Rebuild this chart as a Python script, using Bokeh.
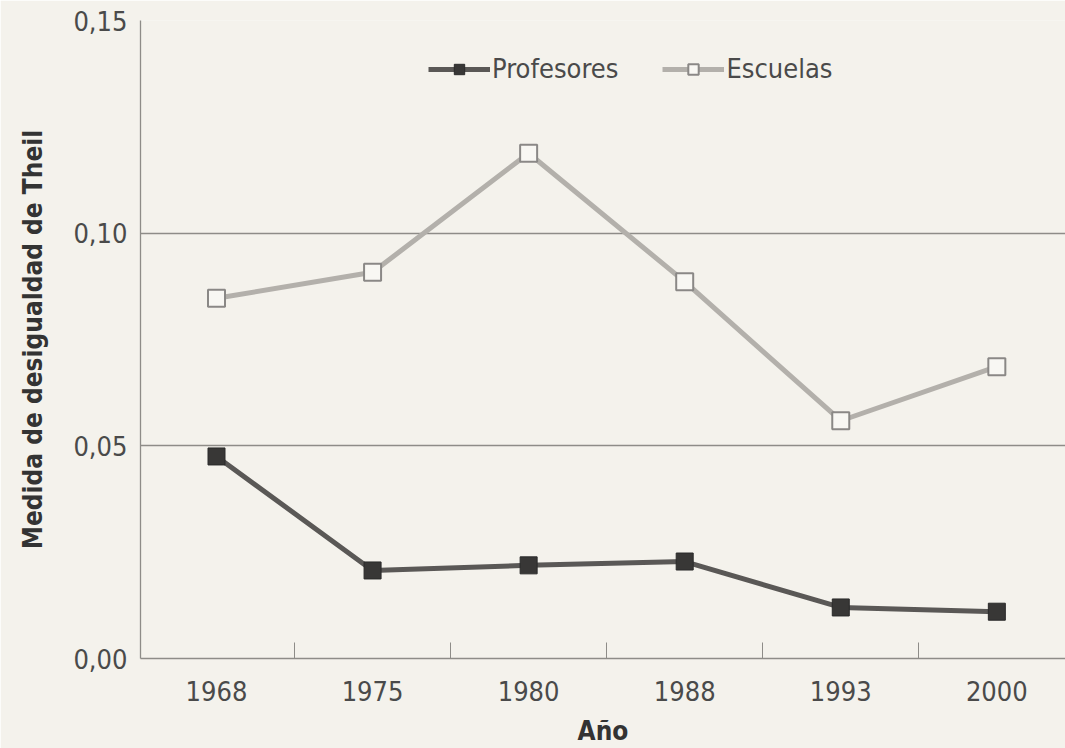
from bokeh.plotting import figure
from bokeh.models import Range1d, FixedTicker, CustomJSTickFormatter
from bokeh.embed import file_html
from bokeh.resources import INLINE

years = ["1968", "1975", "1980", "1988", "1993", "2000"]
profesores = [0.0475, 0.0207, 0.0219, 0.0228, 0.012, 0.011]
escuelas = [0.0847, 0.0908, 0.1188, 0.0886, 0.0559, 0.0686]
y_ticks = [0.0, 0.05, 0.10, 0.15]

x = list(range(len(years)))
FONT = "'Liberation Sans Narrow', 'Arial Narrow', 'DejaVu Sans Condensed', sans-serif"
BG = "#f4f2ec"
GRID = "#8e8c88"
TXT = "#4a4a4a"

p = figure(width=1065, height=748, output_backend="svg", toolbar_location=None,
           x_range=Range1d(-0.487, 5.44), y_range=Range1d(0, 0.15),
           min_border_left=140, min_border_right=0, min_border_top=20, min_border_bottom=90,
           background_fill_color=BG, border_fill_color=BG, outline_line_color=None)

# lines and markers
p.line(x, profesores, line_color="#5a5856", line_width=5, legend_label="Profesores")
p.scatter(x, profesores, marker="square", size=17, fill_color="#383736",
          line_color="#2a2a2a", line_width=1, legend_label="Profesores")
p.line(x, escuelas, line_color="#b3b0ab", line_width=5, legend_label="Escuelas")
p.scatter(x, escuelas, marker="square", size=17, fill_color="#f8f7f3",
          line_color="#8a8886", line_width=2, legend_label="Escuelas")

# x axis
xa = p.xaxis[0]
xa.ticker = FixedTicker(ticks=x, minor_ticks=[i + 0.5 for i in x[:-1]])
xa.major_label_overrides = {i: yr for i, yr in zip(x, years)}
xa.major_tick_line_color = None
xa.minor_tick_in = 16
xa.minor_tick_out = 0
xa.minor_tick_line_color = GRID
xa.axis_line_color = GRID
xa.axis_line_width = 1.3
xa.major_label_standoff = 16
xa.major_label_text_font = FONT
xa.major_label_text_font_size = "27px"
xa.major_label_text_color = TXT
xa.axis_label = "Año"
xa.axis_label_text_font = FONT
xa.axis_label_text_font_size = "26px"
xa.axis_label_text_font_style = "bold"
xa.axis_label_text_color = "#333333"
xa.axis_label_standoff = 12

# y axis
ya = p.yaxis[0]
ya.ticker = FixedTicker(ticks=y_ticks)
ya.formatter = CustomJSTickFormatter(code="return tick.toFixed(2).replace('.', ',');")
ya.major_tick_line_color = None
ya.minor_tick_line_color = None
ya.axis_line_color = GRID
ya.axis_line_width = 1.3
ya.major_label_standoff = 7
ya.major_label_text_font = FONT
ya.major_label_text_font_size = "27px"
ya.major_label_text_color = TXT
ya.axis_label = "Medida de desigualdad de Theil"
ya.axis_label_text_font = FONT
ya.axis_label_text_font_size = "26px"
ya.axis_label_text_font_style = "bold"
ya.axis_label_text_color = "#333333"
ya.axis_label_standoff = 22

p.xgrid.visible = False
p.ygrid.ticker = FixedTicker(ticks=y_ticks)
p.ygrid.grid_line_color = GRID
p.ygrid.grid_line_width = 1.3

lg = p.legend[0]
lg.orientation = "horizontal"
lg.location = (288, 574)
lg.background_fill_alpha = 0
lg.border_line_color = None
lg.padding = 0
lg.margin = 0
lg.spacing = 44
lg.glyph_width = 62
lg.glyph_height = 26
lg.label_height = 26
lg.label_standoff = 2
lg.label_text_font = FONT
lg.label_text_font_size = "27px"
lg.label_text_color = TXT

open("out.html", "w").write(file_html(p, INLINE))
